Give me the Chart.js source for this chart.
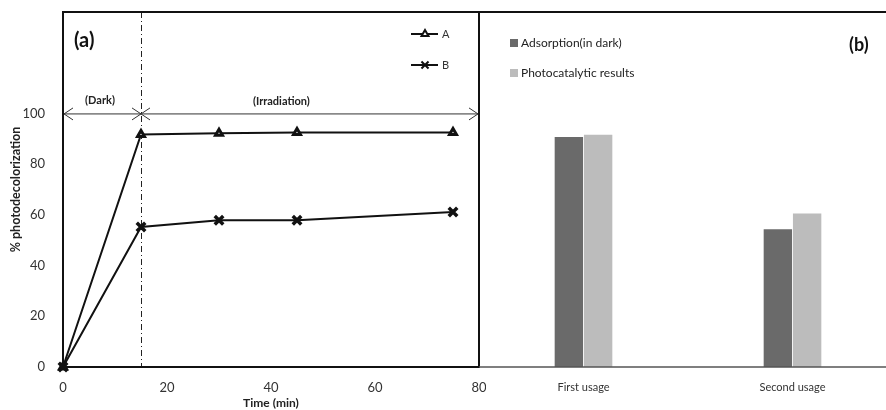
<!DOCTYPE html>
<html lang="en">
<head>
    <meta charset="UTF-8">
    <title>Photodecolorization</title>
    <style>
        html, body { margin: 0; padding: 0; background: #fff; overflow: hidden; }
        .painel { position: absolute; top: 0; }
        #painel_a { left: 0; width: 486px; height: 410px; }
        #painel_b { left: 478px; width: 420px; height: 410px; }
    </style>
</head>
<body>
    <div class="painel" id="painel_a"><canvas id="graficoA" width="486" height="410"></canvas></div>
    <div class="painel" id="painel_b"><canvas id="graficoB" width="420" height="410"></canvas></div>

    <script src="https://cdn.jsdelivr.net/npm/chart.js@4.4.0/dist/chart.umd.min.js"></script>
    <script>
        // (a) photodecolorization vs time
        const timeMin = [0, 15, 30, 45, 75];
        const seriesA = [0, 91.7, 92.2, 92.5, 92.5];
        const seriesB = [0, 55.2, 57.9, 57.9, 61.1];
        const timeTicks = [0, 20, 40, 60, 80];
        const pctTicks = [0, 20, 40, 60, 80, 100];
        const darkEnd = 15;

        // (b) reuse
        const usageLabels = ['First usage', 'Second usage'];
        const adsorptionDark = [90.7, 54.3];
        const photocatalytic = [91.6, 60.5];

        const fonte = 'Lato, "Open Sans", sans-serif';
        Chart.defaults.font.family = fonte;
        Chart.defaults.color = '#333';

        function pares(xs, ys) {
            return xs.map(function (x, i) { return { x: x, y: ys[i] }; });
        }

        // fixed frame, so drop the label overhang padding
        function semPadding(s) {
            s.paddingLeft = 0;
            s.paddingRight = 0;
            s.paddingTop = 0;
            s.paddingBottom = 0;
        }

        function seta(ctx, x, y, dir) {
            ctx.beginPath();
            ctx.moveTo(x + dir * 9, y - 6);
            ctx.lineTo(x, y);
            ctx.lineTo(x + dir * 9, y + 6);
            ctx.stroke();
        }

        const anotacoesA = {
            id: 'anotacoesA',
            beforeDatasetsDraw(chart) {
                const ctx = chart.ctx, a = chart.chartArea, x = chart.scales.x, y = chart.scales.y;
                const xd = x.getPixelForValue(darkEnd);
                const y100 = y.getPixelForValue(100);
                ctx.save();
                // dash-dot line at end of dark period
                ctx.strokeStyle = '#222';
                ctx.lineWidth = 1;
                ctx.setLineDash([6, 3, 1, 3]);
                ctx.beginPath();
                ctx.moveTo(xd + 0.5, a.top);
                ctx.lineTo(xd + 0.5, a.bottom);
                ctx.stroke();
                ctx.setLineDash([]);
                // arrows at 100 %
                ctx.strokeStyle = '#333';
                ctx.beginPath();
                ctx.moveTo(a.left, y100 + 0.5);
                ctx.lineTo(a.right, y100 + 0.5);
                ctx.stroke();
                seta(ctx, a.left + 1, y100 + 0.5, 1);
                seta(ctx, xd, y100 + 0.5, -1);
                seta(ctx, xd, y100 + 0.5, 1);
                seta(ctx, a.right - 1, y100 + 0.5, -1);
                ctx.fillStyle = '#222';
                ctx.font = 'bold 11px ' + fonte;
                ctx.textAlign = 'center';
                ctx.textBaseline = 'bottom';
                ctx.fillText('(Dark)', (a.left + xd) / 2 - 2, y100 - 7);
                ctx.fillText('(Irradiation)', x.getPixelForValue(42), y100 - 6);
                ctx.restore();
            },
            afterDraw(chart) {
                const ctx = chart.ctx, a = chart.chartArea;
                ctx.save();
                ctx.strokeStyle = '#111';
                ctx.lineWidth = 2;
                ctx.strokeRect(a.left, a.top, a.right - a.left, a.bottom - a.top);
                ctx.fillStyle = '#111';
                ctx.font = 'bold 20px ' + fonte;
                ctx.textAlign = 'left';
                ctx.textBaseline = 'middle';
                ctx.fillText('(a)', 74, 41);
                // legend
                const linhas = [34, 65];
                const raios = [4, 5];
                ctx.font = '11px ' + fonte;
                chart.data.datasets.forEach(function (ds, i) {
                    const yy = linhas[i];
                    ctx.strokeStyle = '#111';
                    ctx.lineWidth = 2;
                    ctx.beginPath();
                    ctx.moveTo(411, yy);
                    ctx.lineTo(438, yy);
                    ctx.stroke();
                    ctx.fillStyle = '#fff';
                    Chart.helpers.drawPoint(ctx, {
                        pointStyle: ds.pointStyle,
                        radius: raios[i],
                        borderWidth: 2.5,
                        rotation: 0
                    }, 425, yy);
                    ctx.fillStyle = '#333';
                    ctx.fillText(ds.label, 442, yy);
                });
                ctx.restore();
            }
        };

        new Chart(document.getElementById('graficoA'), {
            type: 'line',
            data: {
                datasets: [
                    {
                        label: 'A',
                        data: pares(timeMin, seriesA),
                        order: 2,
                        clip: false,
                        borderColor: '#111',
                        borderWidth: 2,
                        pointStyle: 'triangle',
                        pointRadius: 4,
                        pointBorderWidth: 3,
                        pointBackgroundColor: '#fff',
                        pointBorderColor: '#111'
                    },
                    {
                        label: 'B',
                        data: pares(timeMin, seriesB),
                        order: 1,
                        clip: false,
                        borderColor: '#111',
                        borderWidth: 2,
                        pointStyle: 'crossRot',
                        pointRadius: 6,
                        pointBorderWidth: 3.5,
                        pointBorderColor: '#111'
                    }
                ]
            },
            options: {
                responsive: false,
                animation: false,
                layout: { autoPadding: false, padding: { top: 12, right: 7, left: 0, bottom: 0 } },
                plugins: { legend: { display: false }, tooltip: { enabled: false } },
                scales: {
                    x: {
                        type: 'linear',
                        min: 0,
                        max: 80,
                        grid: { display: false },
                        border: { display: false },
                        afterBuildTicks: function (s) { s.ticks = timeTicks.map(function (v) { return { value: v }; }); },
                        afterFit: function (s) { s.height = 43; semPadding(s); },
                        ticks: { font: { size: 13 }, color: '#333', padding: 5, maxRotation: 0 },
                        title: { display: true, text: 'Time (min)', font: { size: 12, weight: 'bold' }, color: '#222', padding: { top: 0, bottom: 0 } }
                    },
                    y: {
                        min: 0,
                        max: 140,
                        grid: { display: false },
                        border: { display: false },
                        afterBuildTicks: function (s) { s.ticks = pctTicks.map(function (v) { return { value: v }; }); },
                        afterFit: function (s) { s.width = 63; semPadding(s); },
                        ticks: { font: { size: 13 }, color: '#333', padding: 10 },
                        title: { display: true, text: '% photodecolorization', font: { size: 12.5, weight: 'bold' }, color: '#222', padding: { top: 8, bottom: 0 } }
                    }
                }
            },
            plugins: [anotacoesA]
        });

        const molduraB = {
            id: 'molduraB',
            afterDraw(chart) {
                const ctx = chart.ctx, a = chart.chartArea;
                ctx.save();
                ctx.strokeStyle = '#111';
                ctx.lineWidth = 2;
                ctx.beginPath();
                ctx.moveTo(a.left, a.bottom);
                ctx.lineTo(a.left, a.top);
                ctx.lineTo(a.right + 5, a.top);
                ctx.stroke();
                ctx.strokeStyle = '#555';
                ctx.lineWidth = 1.5;
                ctx.beginPath();
                ctx.moveTo(a.left, a.bottom);
                ctx.lineTo(a.right, a.bottom);
                ctx.stroke();
                ctx.fillStyle = '#111';
                ctx.font = 'bold 18px ' + fonte;
                ctx.textAlign = 'left';
                ctx.textBaseline = 'middle';
                ctx.fillText('(b)', 371, 45);
                ctx.font = '12px ' + fonte;
                const linhas = [43, 73];
                chart.data.datasets.forEach(function (ds, i) {
                    ctx.fillStyle = ds.backgroundColor;
                    ctx.fillRect(32, linhas[i] - 4, 8, 8);
                    ctx.fillStyle = '#222';
                    ctx.fillText(ds.label, 43, linhas[i]);
                });
                ctx.restore();
            }
        };

        new Chart(document.getElementById('graficoB'), {
            type: 'bar',
            data: {
                labels: usageLabels,
                datasets: [
                    { label: 'Adsorption(in dark)', data: adsorptionDark, backgroundColor: '#6a6a6a' },
                    { label: 'Photocatalytic results', data: photocatalytic, backgroundColor: '#bcbcbc' }
                ]
            },
            options: {
                responsive: false,
                animation: false,
                layout: { padding: { top: 12, right: 1, left: 1, bottom: 0 } },
                plugins: { legend: { display: false }, tooltip: { enabled: false } },
                datasets: { bar: { categoryPercentage: 0.28, barPercentage: 0.97 } },
                scales: {
                    x: {
                        grid: { display: false },
                        border: { display: false },
                        afterFit: function (s) { s.height = 43; },
                        ticks: { font: { size: 11 }, color: '#333', padding: 6, maxRotation: 0 }
                    },
                    y: {
                        display: false,
                        min: 0,
                        max: 140
                    }
                }
            },
            plugins: [molduraB]
        });
    </script>
</body>
</html>
